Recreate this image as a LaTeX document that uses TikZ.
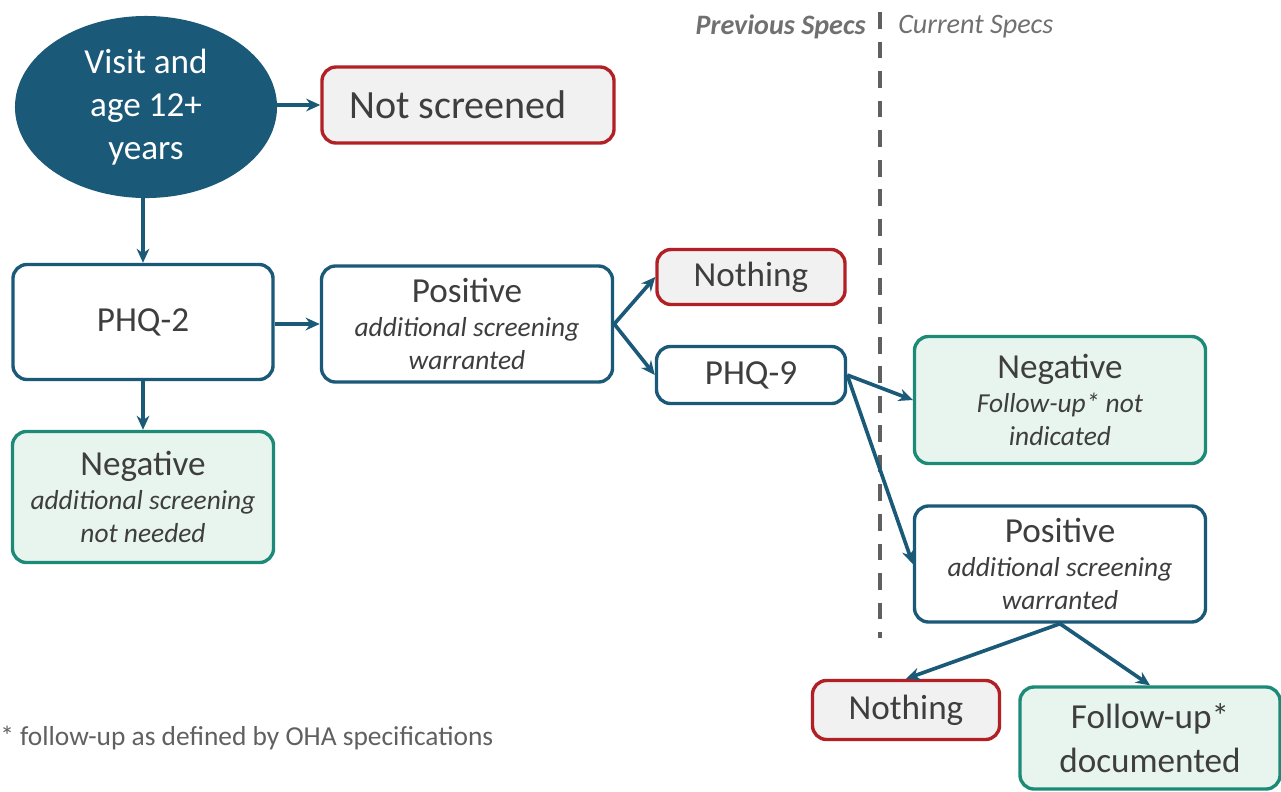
\documentclass[tikz,border=0pt]{standalone}
\usepackage{fontspec}
\setmainfont{Carlito}
\usetikzlibrary{arrows.meta,shapes.geometric}
\definecolor{flowblue}{RGB}{27,89,120}
\definecolor{flowred}{RGB}{178,32,38}
\definecolor{flowteal}{RGB}{28,138,118}
\definecolor{fillgray}{RGB}{241,241,241}
\definecolor{fillgreen}{RGB}{232,245,239}
\definecolor{textgray}{RGB}{62,62,62}
\definecolor{notegray}{RGB}{96,96,96}
\definecolor{labelgray}{RGB}{112,112,112}
\newcommand{\maintext}{\fontsize{25}{30}\selectfont}
\newcommand{\subtext}{\fontsize{19.5}{24}\selectfont\itshape}
\tikzset{
  box/.style={
    rectangle,
    rounded corners=10pt,
    line width=2.4pt,
    align=center,
    inner sep=0pt,
    text=textgray,
    font=\maintext
  },
  box-blue/.style={box, draw=flowblue, fill=white},
  box-red/.style={box, draw=flowred, fill=fillgray},
  box-green/.style={box, draw=flowteal, fill=fillgreen},
  flow-arrow/.style={draw=flowblue, line width=2.6pt, -{Stealth[length=10pt,width=9pt]}},
  spec-label/.style={font=\fontsize{20}{24}\selectfont\itshape, text=labelgray, inner sep=0pt}
}

\begin{document}
\begin{tikzpicture}[x=0.025cm, y=-0.025cm]
  \useasboundingbox (0,0) rectangle (1281,791);
  % Start and first screening
  \node[ellipse, fill=flowblue, text=white, font=\fontsize{25}{30.5}\selectfont,
        align=center, minimum width=6.55cm, minimum height=4.55cm, inner sep=0pt]
        (visit) at (146,107) {Visit and\\age 12+\\years};
  \node[box-red, minimum width=7.3cm, minimum height=1.9cm, font=\fontsize{28.5}{34}\selectfont]
        (notscr) at (468,105) {Not screened\hspace{0.5cm}};
  \node[box-blue, minimum width=6.5cm, minimum height=2.875cm] (phq2) at (143,322) {PHQ-2};
  \node[box-blue, minimum width=7.275cm, minimum height=2.9cm, font=\subtext]
        (pos1) at (467,324) {{\maintext\upshape Positive}\\additional screening\\warranted};
  \node[box-green, minimum width=6.525cm, minimum height=3.275cm, font=\subtext]
        (neg1) at (143,497) {{\maintext\upshape Negative}\\additional screening\\not needed};
  % Previous specs
  \node[box-red, minimum width=4.7cm, minimum height=1.375cm] (noth1) at (751,277) {Nothing};
  \node[box-blue, minimum width=4.725cm, minimum height=1.425cm] (phq9) at (751,375) {PHQ-9};
  % Current specs
  \node[box-green, minimum width=7.275cm, minimum height=3.175cm, font=\subtext]
        (neg2) at (1060,400) {{\maintext\upshape Negative}\\Follow-up* not\\indicated};
  \node[box-blue, minimum width=7.275cm, minimum height=2.9cm, font=\subtext]
        (pos2) at (1060,564) {{\maintext\upshape Positive}\\additional screening\\warranted};
  \node[box-red, minimum width=4.675cm, minimum height=1.475cm] (noth2) at (906,710) {Nothing};
  \node[box-green, minimum width=6.5cm, minimum height=2.55cm, font=\fontsize{25}{31}\selectfont]
        (follow) at (1150,738) {Follow-up*\\documented};
  % Divider and labels
  \coordinate (div-top) at (880,12);
  \coordinate (div-bot) at (880,638);
  \draw[notegray, line width=2.8pt, dash pattern=on 12pt off 9pt] (div-top) -- (div-bot);
  \node[spec-label, font=\fontsize{20}{24}\selectfont\bfseries\itshape, anchor=east]
        (prev) at (866,27) {Previous Specs};
  \node[spec-label, anchor=west] (curr) at (898,27) {Current Specs};
  \node[anchor=west, inner sep=0pt, text=notegray, font=\fontsize{19.5}{24}\selectfont]
        (note) at (0,738) {* follow-up as defined by OHA specifications};
  % Draw connectors
  \draw[flow-arrow] (visit.east |- notscr.west) -- (notscr.west);
  \draw[flow-arrow] (phq2.north |- visit.south) -- (phq2.north);
  \draw[flow-arrow] (phq2.east |- pos1.west) -- (pos1.west);
  \draw[flow-arrow] (phq2.south) -- (neg1.north);
  \foreach \dest in {noth1,phq9} {
    \draw[flow-arrow] (pos1.east) -- (\dest.west);
  }
  \draw[flow-arrow] (phq9.east) -- (neg2.west);
  \draw[flow-arrow] (phq9.east) -- (pos2.west);
  \foreach \dest in {noth2,follow} {
    \draw[flow-arrow] (pos2.south) -- (\dest.north);
  }
\end{tikzpicture}
\end{document}
